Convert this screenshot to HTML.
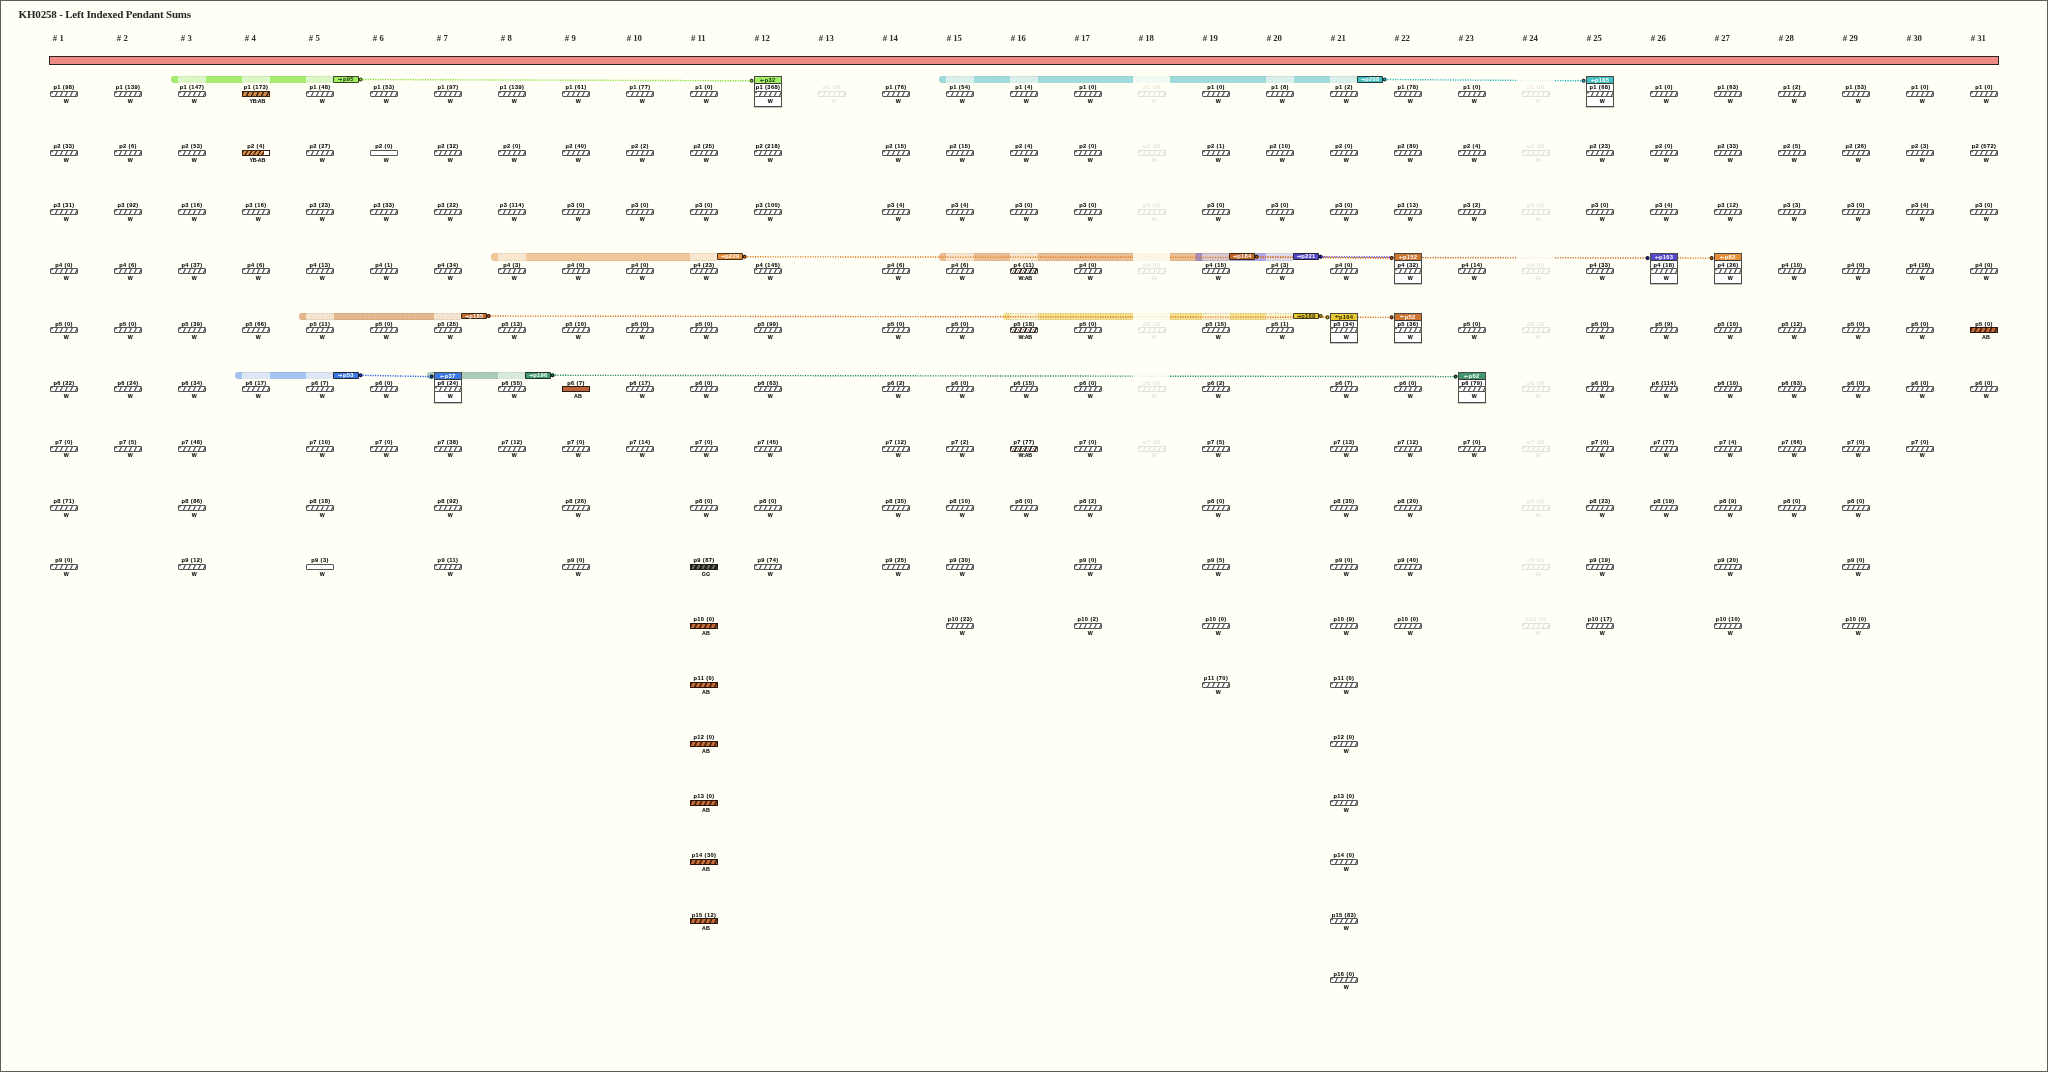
<!DOCTYPE html>
<html lang="en"><head><meta charset="utf-8"><title>KH0258 - Left Indexed Pendant Sums</title>
<style>html,body{margin:0;padding:0}
body{width:2048px;height:1072px;overflow:hidden;background:#fffff6;font-family:"Liberation Sans",sans-serif}
#pg{position:relative;width:2046px;height:1070px;border:1px solid #5e5e58;box-shadow:inset 0 0 0 1px #fffffc;overflow:hidden;will-change:transform}
#pg div,#pg svg{position:absolute}
h1{position:absolute;margin:0;left:17.6px;top:7.3px;font:bold 11px "Liberation Serif",serif;color:#262626;white-space:nowrap;letter-spacing:-.19px}
.h{top:31.8px;width:40px;text-align:center;font:bold 8.7px "Liberation Serif",serif;color:#2c2c2c;white-space:nowrap}
#cord{left:48px;top:55px;width:1948px;height:7px;border:1px solid #2e2222;background:#ee8c83;box-shadow:0 0 0 1px #fffffd}
.c{width:28px;height:20px}
.c i,.c u,.t i,.t u{position:absolute;left:-10px;width:48px;text-align:center;font-style:normal;text-decoration:none;font-weight:bold;color:#000;-webkit-text-stroke:.06px #000;white-space:nowrap;line-height:6px;height:6px}
.c i,.t i{top:-6.7px;font-size:5.7px;letter-spacing:.4px}
.c u,.t u{top:6.9px;font-size:5.3px;left:-7.6px;letter-spacing:.1px}
.c b,.t b{position:absolute;left:0;top:0;width:26px;height:4px;border:1px solid #555;border-radius:1px;background:#fff repeating-linear-gradient(115deg,#5c5c5c 0,#5c5c5c .55px,#fff 1.3px,#fff 3.88px,#5c5c5c 4.53px);background-position:1px 0}
.f{opacity:.17}
.f i,.f u{font-weight:normal;-webkit-text-stroke:0}
b.p{background:#fff}
b.ab{background:#c36c3a repeating-linear-gradient(115deg,#5a2a10 0,#5a2a10 1.1px,#c8703c 2px,#c8703c 3.7px,#5a2a10 4.53px);border-color:#2a1408;border-radius:0}
b.abs{background:#b8633c;border-color:#2e160a;border-radius:0}
b.gg{background:#4c5248 repeating-linear-gradient(115deg,#20241e 0,#20241e 1.5px,#6c7266 2.5px,#6c7266 3.6px,#20241e 4.53px);border-color:#1c1e1a;border-radius:0}
b.yb{background:#c98442 repeating-linear-gradient(115deg,#3a2410 0,#3a2410 .7px,#d08a46 1.6px,#d08a46 3.8px,#3a2410 4.53px);border-color:#3a2410;border-radius:0}
b.yb2{background:linear-gradient(90deg,transparent 0,transparent 20.5px,#fff 21.5px),#d08a48 repeating-linear-gradient(125deg,#4a2810 0,#4a2810 .7px,#e09a58 1.5px,#e09a58 2.5px,#c06a2c 3px,#4a2810 3.5px);border-color:#3a2410;border-radius:0}
b.wab{background:#fff repeating-linear-gradient(115deg,#333 0,#333 .9px,#fff 1.6px,#fff 2.5px,#b4683c 2.9px,#b4683c 3.1px,#fff 3.5px,#fff 3.8px,#333 4.53px);border-color:#3a3a3a}
.bar{height:7.4px;border-radius:3.2px 0 0 3.2px;overflow:hidden}
.bar s{position:absolute;top:0;height:100%;text-decoration:none}
.bar:after{content:"";position:absolute;left:0;right:0;top:0;bottom:0;background:repeating-linear-gradient(90deg,rgba(70,70,40,.22) 0,rgba(70,70,40,.22) 1.2px,transparent 1.2px,transparent 2.5px) 0 0/100% .7px no-repeat,repeating-linear-gradient(90deg,rgba(70,70,40,.22) 0,rgba(70,70,40,.22) 1.2px,transparent 1.2px,transparent 2.5px) 0 100%/100% .7px no-repeat}
.g{display:flex;align-items:center;justify-content:center;height:4.7px;width:23.6px;border:1px solid rgba(25,25,20,.8);border-radius:1px;font-weight:bold;font-size:5.8px;line-height:4.7px;text-align:center;white-space:nowrap;letter-spacing:.25px}
.t{width:26.4px;height:28.9px;border:1px solid #4a4a48;background:#fff;box-shadow:0 .6px 0 #9a9a90}
.t em{position:absolute;left:0;top:0;width:26.4px;height:6px;border-bottom:.8px solid #3a3a30;font-style:normal;font-weight:bold;font-size:5.8px;line-height:6px;text-align:center;letter-spacing:.25px;white-space:nowrap}
.t b{left:-1px;width:26.4px;border-left-color:#4a4a48;border-right-color:#4a4a48}
.fd{background:rgba(255,255,246,.86)}
#pg .g .a{margin-top:.2px}
#pg .a{position:static;display:inline-block;width:4.2px;height:3px;vertical-align:.3px;margin-right:.3px;overflow:visible}</style></head>
<body><div id="pg">
<h1>KH0258 - Left Indexed Pendant Sums</h1>
<div class="h" style="left:37.3px"># 1</div>
<div class="h" style="left:101.3px"># 2</div>
<div class="h" style="left:165.3px"># 3</div>
<div class="h" style="left:229.3px"># 4</div>
<div class="h" style="left:293.3px"># 5</div>
<div class="h" style="left:357.3px"># 6</div>
<div class="h" style="left:421.3px"># 7</div>
<div class="h" style="left:485.3px"># 8</div>
<div class="h" style="left:549.3px"># 9</div>
<div class="h" style="left:613.3px"># 10</div>
<div class="h" style="left:677.3px"># 11</div>
<div class="h" style="left:741.3px"># 12</div>
<div class="h" style="left:805.3px"># 13</div>
<div class="h" style="left:869.3px"># 14</div>
<div class="h" style="left:933.3px"># 15</div>
<div class="h" style="left:997.3px"># 16</div>
<div class="h" style="left:1061.3px"># 17</div>
<div class="h" style="left:1125.3px"># 18</div>
<div class="h" style="left:1189.3px"># 19</div>
<div class="h" style="left:1253.3px"># 20</div>
<div class="h" style="left:1317.3px"># 21</div>
<div class="h" style="left:1381.3px"># 22</div>
<div class="h" style="left:1445.3px"># 23</div>
<div class="h" style="left:1509.3px"># 24</div>
<div class="h" style="left:1573.3px"># 25</div>
<div class="h" style="left:1637.3px"># 26</div>
<div class="h" style="left:1701.3px"># 27</div>
<div class="h" style="left:1765.3px"># 28</div>
<div class="h" style="left:1829.3px"># 29</div>
<div class="h" style="left:1893.3px"># 30</div>
<div class="h" style="left:1957.3px"># 31</div>
<div id="cord"></div>
<div class="bar" style="left:169.8px;top:75px;width:162.7px">
<s style="left:0px;width:7.2px;background:#a9ec72"></s>
<s style="left:7.2px;width:28px;background:#dcf6c6"></s>
<s style="left:35.2px;width:36px;background:#a9ec72"></s>
<s style="left:71.2px;width:28px;background:#dcf6c6"></s>
<s style="left:99.2px;width:36px;background:#a9ec72"></s>
<s style="left:135.2px;width:27.5px;background:#dcf6c6"></s>
</div>
<div class="bar" style="left:937.8px;top:75px;width:418.7px">
<s style="left:0px;width:7.2px;background:#9fdcdb"></s>
<s style="left:7.2px;width:28px;background:#d7f0ea"></s>
<s style="left:35.2px;width:36px;background:#9fdcdb"></s>
<s style="left:71.2px;width:28px;background:#d7f0ea"></s>
<s style="left:99.2px;width:228px;background:#9fdcdb"></s>
<s style="left:327.2px;width:28px;background:#d7f0ea"></s>
<s style="left:355.2px;width:36px;background:#9fdcdb"></s>
<s style="left:391.2px;width:27.5px;background:#d7f0ea"></s>
</div>
<div class="bar" style="left:489.8px;top:252.3px;width:226.7px">
<s style="left:0px;width:7.2px;background:#f0c89a"></s>
<s style="left:7.2px;width:28px;background:#f8e6d1"></s>
<s style="left:35.2px;width:164px;background:#f0c89a"></s>
<s style="left:199.2px;width:27.5px;background:#f8e6d1"></s>
</div>
<div class="bar" style="left:937.8px;top:252.3px;width:290.7px">
<s style="left:0px;width:7.2px;background:rgba(222,150,86,.62)"></s>
<s style="left:7.2px;width:28px;background:rgba(236,190,150,.42)"></s>
<s style="left:35.2px;width:36px;background:rgba(222,150,86,.62)"></s>
<s style="left:71.2px;width:28px;background:rgba(236,190,150,.42)"></s>
<s style="left:99.2px;width:164px;background:rgba(222,150,86,.62)"></s>
<s style="left:263.2px;width:27.5px;background:rgba(236,190,150,.42)"></s>
</div>
<div class="bar" style="left:1193.8px;top:252.3px;width:98.7px">
<s style="left:0px;width:7.2px;background:rgba(110,100,222,.55)"></s>
<s style="left:7.2px;width:28px;background:rgba(150,140,225,.30)"></s>
<s style="left:35.2px;width:36px;background:rgba(110,100,222,.55)"></s>
<s style="left:71.2px;width:27.5px;background:rgba(150,140,225,.30)"></s>
</div>
<div class="bar" style="left:297.8px;top:311.55px;width:162.7px">
<s style="left:0px;width:7.2px;background:#e3b88f"></s>
<s style="left:7.2px;width:28px;background:#f5e3d1"></s>
<s style="left:35.2px;width:100px;background:#e3b88f"></s>
<s style="left:135.2px;width:27.5px;background:#f5e3d1"></s>
</div>
<div class="bar" style="left:1001.8px;top:311.55px;width:290.7px">
<s style="left:0px;width:7.2px;background:rgba(240,210,90,.66)"></s>
<s style="left:7.2px;width:28px;background:rgba(246,224,150,.42)"></s>
<s style="left:35.2px;width:164px;background:rgba(240,210,90,.66)"></s>
<s style="left:199.2px;width:28px;background:rgba(246,224,150,.42)"></s>
<s style="left:227.2px;width:36px;background:rgba(240,210,90,.66)"></s>
<s style="left:263.2px;width:27.5px;background:rgba(246,224,150,.42)"></s>
</div>
<div class="bar" style="left:233.8px;top:370.8px;width:98.7px">
<s style="left:0px;width:7.2px;background:#a6c2ee"></s>
<s style="left:7.2px;width:28px;background:#dce6f4"></s>
<s style="left:35.2px;width:36px;background:#a6c2ee"></s>
<s style="left:71.2px;width:27.5px;background:#dce6f4"></s>
</div>
<div class="bar" style="left:425.8px;top:370.8px;width:98.7px">
<s style="left:0px;width:7.2px;background:#a8ccb5"></s>
<s style="left:7.2px;width:28px;background:#d7e8dc"></s>
<s style="left:35.2px;width:36px;background:#a8ccb5"></s>
<s style="left:71.2px;width:27.5px;background:#d7e8dc"></s>
</div>
<svg width="2046" height="1070" viewBox="1 1 2046 1070" style="left:0;top:0" fill="none" stroke-width="1.4" stroke-dasharray="1.2 1.3">
<path d="M361 79.5L750.5 80.8" stroke="#7fe02e" stroke-dashoffset="1"/>
<path d="M1385 79.5L1582.5 80.8" stroke="#22b4c0" stroke-dashoffset="0"/>
<path d="M1257 256.8L1390.5 258.1" stroke="#c4541a" stroke-dashoffset="2"/>
<path d="M1321 256.8L1423 257.21" stroke="#3a30d8" stroke-dashoffset="2.25"/>
<path d="M1423 257.41L1646.5 257.71" stroke="#3a30d8" stroke-opacity=".3" stroke-dashoffset="0.5"/>
<path d="M745 256.8L1710.5 258.1" stroke="#e07a16" stroke-dashoffset="0"/>
<path d="M1321 316.05L1326.5 317.35" stroke="#e0b414" stroke-dashoffset="1"/>
<path d="M489 316.05L1390.5 317.35" stroke="#dc6c14" stroke-dashoffset="1.5"/>
<path d="M361 375.3L430.5 376.6" stroke="#1c58ea" stroke-dashoffset="1"/>
<path d="M553 375.3L1454.5 376.6" stroke="#1f8a58" stroke-dashoffset="0.5"/>
</svg>
<div class="g" style="left:332.3px;top:75.1px;background:#a4ee66;color:#14300a"><svg class="a" viewBox="0 0 4.2 3"><path d="M0 1.5H3.4M2.3 .4L3.8 1.5L2.3 2.6" fill="none" stroke="currentColor" stroke-width=".75"/></svg>p95</div>
<div class="g" style="left:1356.3px;top:75.1px;background:#43bfc1;color:#ffffff"><svg class="a" viewBox="0 0 4.2 3"><path d="M0 1.5H3.4M2.3 .4L3.8 1.5L2.3 2.6" fill="none" stroke="currentColor" stroke-width=".75"/></svg>p208</div>
<div class="g" style="left:716.3px;top:252.4px;background:#e78f38;color:#ffffff"><svg class="a" viewBox="0 0 4.2 3"><path d="M0 1.5H3.4M2.3 .4L3.8 1.5L2.3 2.6" fill="none" stroke="currentColor" stroke-width=".75"/></svg>p229</div>
<div class="g" style="left:1228.3px;top:252.4px;background:#bf642b;color:#ffffff"><svg class="a" viewBox="0 0 4.2 3"><path d="M0 1.5H3.4M2.3 .4L3.8 1.5L2.3 2.6" fill="none" stroke="currentColor" stroke-width=".75"/></svg>p184</div>
<div class="g" style="left:1292.3px;top:252.4px;background:#5649c9;color:#ffffff"><svg class="a" viewBox="0 0 4.2 3"><path d="M0 1.5H3.4M2.3 .4L3.8 1.5L2.3 2.6" fill="none" stroke="currentColor" stroke-width=".75"/></svg>p221</div>
<div class="g" style="left:460.3px;top:311.65px;background:#c1682c;color:#ffffff"><svg class="a" viewBox="0 0 4.2 3"><path d="M0 1.5H3.4M2.3 .4L3.8 1.5L2.3 2.6" fill="none" stroke="currentColor" stroke-width=".75"/></svg>p185</div>
<div class="g" style="left:1292.3px;top:311.65px;background:#e9c932;color:#2a2408"><svg class="a" viewBox="0 0 4.2 3"><path d="M0 1.5H3.4M2.3 .4L3.8 1.5L2.3 2.6" fill="none" stroke="currentColor" stroke-width=".75"/></svg>p169</div>
<div class="g" style="left:332.3px;top:370.9px;background:#3c79e2;color:#ffffff"><svg class="a" viewBox="0 0 4.2 3"><path d="M0 1.5H3.4M2.3 .4L3.8 1.5L2.3 2.6" fill="none" stroke="currentColor" stroke-width=".75"/></svg>p53</div>
<div class="g" style="left:524.3px;top:370.9px;background:#41976f;color:#ffffff"><svg class="a" viewBox="0 0 4.2 3"><path d="M0 1.5H3.4M2.3 .4L3.8 1.5L2.3 2.6" fill="none" stroke="currentColor" stroke-width=".75"/></svg>p196</div>
<div class="t" style="left:752.7px;top:75px"><em style="background:#a4ee66;color:#14300a"><svg class="a" viewBox="0 0 4.2 3"><path d="M4.2 1.5H.8M1.9 .4L.4 1.5L1.9 2.6" fill="none" stroke="currentColor" stroke-width=".75"/></svg>p32</em></div>
<div class="t" style="left:1584.7px;top:75px"><em style="background:#43bfc1;color:#ffffff"><svg class="a" viewBox="0 0 4.2 3"><path d="M4.2 1.5H.8M1.9 .4L.4 1.5L1.9 2.6" fill="none" stroke="currentColor" stroke-width=".75"/></svg>p165</em></div>
<div class="t" style="left:1712.7px;top:252.3px"><em style="background:#e78f38;color:#ffffff"><svg class="a" viewBox="0 0 4.2 3"><path d="M4.2 1.5H.8M1.9 .4L.4 1.5L1.9 2.6" fill="none" stroke="currentColor" stroke-width=".75"/></svg>p83</em></div>
<div class="t" style="left:1392.7px;top:252.3px"><em style="background:#cc732f;color:#ffffff"><svg class="a" viewBox="0 0 4.2 3"><path d="M4.2 1.5H.8M1.9 .4L.4 1.5L1.9 2.6" fill="none" stroke="currentColor" stroke-width=".75"/></svg>p152</em></div>
<div class="t" style="left:1648.7px;top:252.3px"><em style="background:#5649c9;color:#ffffff"><svg class="a" viewBox="0 0 4.2 3"><path d="M4.2 1.5H.8M1.9 .4L.4 1.5L1.9 2.6" fill="none" stroke="currentColor" stroke-width=".75"/></svg>p163</em></div>
<div class="t" style="left:1392.7px;top:311.55px"><em style="background:#cc732f;color:#ffffff"><svg class="a" viewBox="0 0 4.2 3"><path d="M4.2 1.5H.8M1.9 .4L.4 1.5L1.9 2.6" fill="none" stroke="currentColor" stroke-width=".75"/></svg>p52</em></div>
<div class="t" style="left:1328.7px;top:311.55px"><em style="background:#e9c932;color:#2a2408"><svg class="a" viewBox="0 0 4.2 3"><path d="M4.2 1.5H.8M1.9 .4L.4 1.5L1.9 2.6" fill="none" stroke="currentColor" stroke-width=".75"/></svg>p164</em></div>
<div class="t" style="left:432.7px;top:370.8px"><em style="background:#3c79e2;color:#ffffff"><svg class="a" viewBox="0 0 4.2 3"><path d="M4.2 1.5H.8M1.9 .4L.4 1.5L1.9 2.6" fill="none" stroke="currentColor" stroke-width=".75"/></svg>p37</em></div>
<div class="t" style="left:1456.7px;top:370.8px"><em style="background:#41976f;color:#ffffff"><svg class="a" viewBox="0 0 4.2 3"><path d="M4.2 1.5H.8M1.9 .4L.4 1.5L1.9 2.6" fill="none" stroke="currentColor" stroke-width=".75"/></svg>p62</em></div>
<svg width="2046" height="1070" viewBox="1 1 2046 1070" style="left:0;top:0" stroke-width="1.15">
<circle cx="360.6" cy="79.45" r="1.45" fill="#8ae63a" stroke="#2c4214"/>
<circle cx="751.6" cy="80.8" r="1.45" fill="#8ae63a" stroke="#2c4214"/>
<circle cx="1384.6" cy="79.45" r="1.45" fill="#2ab0ba" stroke="#123a40"/>
<circle cx="1583.6" cy="80.8" r="1.45" fill="#2ab0ba" stroke="#123a40"/>
<circle cx="744.6" cy="256.75" r="1.45" fill="#e06a08" stroke="#3c1c04"/>
<circle cx="1711.6" cy="258.1" r="1.45" fill="#e06a08" stroke="#3c1c04"/>
<circle cx="1256.6" cy="256.75" r="1.45" fill="#cc5a10" stroke="#3a1806"/>
<circle cx="1391.6" cy="258.1" r="1.45" fill="#cc5a10" stroke="#3a1806"/>
<circle cx="1320.6" cy="256.75" r="1.45" fill="#1c1ca4" stroke="#10103c"/>
<circle cx="1647.6" cy="258.1" r="1.45" fill="#1c1ca4" stroke="#10103c"/>
<circle cx="488.6" cy="316" r="1.45" fill="#cc5a10" stroke="#3a1806"/>
<circle cx="1391.6" cy="317.35" r="1.45" fill="#cc5a10" stroke="#3a1806"/>
<circle cx="1320.6" cy="316" r="1.45" fill="#ecc820" stroke="#3c3006"/>
<circle cx="1327.6" cy="317.35" r="1.45" fill="#ecc820" stroke="#3c3006"/>
<circle cx="360.6" cy="375.25" r="1.45" fill="#1444c0" stroke="#0c1848"/>
<circle cx="431.6" cy="376.6" r="1.45" fill="#1444c0" stroke="#0c1848"/>
<circle cx="552.6" cy="375.25" r="1.45" fill="#1b6e46" stroke="#0c2c1c"/>
<circle cx="1455.6" cy="376.6" r="1.45" fill="#1b6e46" stroke="#0c2c1c"/>
</svg>
<div class="c" style="left:49px;top:90px"><i>p1 (98)</i><b></b><u>W</u></div>
<div class="c" style="left:113px;top:90px"><i>p1 (139)</i><b></b><u>W</u></div>
<div class="c" style="left:177px;top:90px"><i>p1 (147)</i><b></b><u>W</u></div>
<div class="c" style="left:241px;top:90px"><i>p1 (173)</i><b class="yb"></b><u style="left:-8.8px;letter-spacing:-.25px">YB:AB</u></div>
<div class="c" style="left:305px;top:90px"><i>p1 (48)</i><b></b><u>W</u></div>
<div class="c" style="left:369px;top:90px"><i>p1 (53)</i><b></b><u>W</u></div>
<div class="c" style="left:433px;top:90px"><i>p1 (97)</i><b></b><u>W</u></div>
<div class="c" style="left:497px;top:90px"><i>p1 (139)</i><b></b><u>W</u></div>
<div class="c" style="left:561px;top:90px"><i>p1 (61)</i><b></b><u>W</u></div>
<div class="c" style="left:625px;top:90px"><i>p1 (77)</i><b></b><u>W</u></div>
<div class="c" style="left:689px;top:90px"><i>p1 (0)</i><b></b><u>W</u></div>
<div class="c" style="left:753px;top:90px"><i>p1 (368)</i><b></b><u>W</u></div>
<div class="c f" style="left:817px;top:90px"><i>p1 (0)</i><b></b><u>W</u></div>
<div class="c" style="left:881px;top:90px"><i>p1 (76)</i><b></b><u>W</u></div>
<div class="c" style="left:945px;top:90px"><i>p1 (54)</i><b></b><u>W</u></div>
<div class="c" style="left:1009px;top:90px"><i>p1 (4)</i><b></b><u>W</u></div>
<div class="c" style="left:1073px;top:90px"><i>p1 (0)</i><b></b><u>W</u></div>
<div class="c f" style="left:1137px;top:90px"><i>p1 (0)</i><b></b><u>W</u></div>
<div class="c" style="left:1201px;top:90px"><i>p1 (0)</i><b></b><u>W</u></div>
<div class="c" style="left:1265px;top:90px"><i>p1 (8)</i><b></b><u>W</u></div>
<div class="c" style="left:1329px;top:90px"><i>p1 (2)</i><b></b><u>W</u></div>
<div class="c" style="left:1393px;top:90px"><i>p1 (78)</i><b></b><u>W</u></div>
<div class="c" style="left:1457px;top:90px"><i>p1 (0)</i><b></b><u>W</u></div>
<div class="c f" style="left:1521px;top:90px"><i>p1 (0)</i><b></b><u>W</u></div>
<div class="c" style="left:1585px;top:90px"><i>p1 (68)</i><b></b><u>W</u></div>
<div class="c" style="left:1649px;top:90px"><i>p1 (0)</i><b></b><u>W</u></div>
<div class="c" style="left:1713px;top:90px"><i>p1 (63)</i><b></b><u>W</u></div>
<div class="c" style="left:1777px;top:90px"><i>p1 (2)</i><b></b><u>W</u></div>
<div class="c" style="left:1841px;top:90px"><i>p1 (53)</i><b></b><u>W</u></div>
<div class="c" style="left:1905px;top:90px"><i>p1 (0)</i><b></b><u>W</u></div>
<div class="c" style="left:1969px;top:90px"><i>p1 (0)</i><b></b><u>W</u></div>
<div class="c" style="left:49px;top:149.09px"><i>p2 (33)</i><b></b><u>W</u></div>
<div class="c" style="left:113px;top:149.09px"><i>p2 (6)</i><b></b><u>W</u></div>
<div class="c" style="left:177px;top:149.09px"><i>p2 (53)</i><b></b><u>W</u></div>
<div class="c" style="left:241px;top:149.09px"><i>p2 (4)</i><b class="yb2"></b><u style="left:-8.8px;letter-spacing:-.25px">YB-AB</u></div>
<div class="c" style="left:305px;top:149.09px"><i>p2 (27)</i><b></b><u>W</u></div>
<div class="c" style="left:369px;top:149.09px"><i>p2 (0)</i><b class="p"></b><u>W</u></div>
<div class="c" style="left:433px;top:149.09px"><i>p2 (32)</i><b></b><u>W</u></div>
<div class="c" style="left:497px;top:149.09px"><i>p2 (0)</i><b></b><u>W</u></div>
<div class="c" style="left:561px;top:149.09px"><i>p2 (40)</i><b></b><u>W</u></div>
<div class="c" style="left:625px;top:149.09px"><i>p2 (2)</i><b></b><u>W</u></div>
<div class="c" style="left:689px;top:149.09px"><i>p2 (25)</i><b></b><u>W</u></div>
<div class="c" style="left:753px;top:149.09px"><i>p2 (218)</i><b></b><u>W</u></div>
<div class="c" style="left:881px;top:149.09px"><i>p2 (15)</i><b></b><u>W</u></div>
<div class="c" style="left:945px;top:149.09px"><i>p2 (15)</i><b></b><u>W</u></div>
<div class="c" style="left:1009px;top:149.09px"><i>p2 (4)</i><b></b><u>W</u></div>
<div class="c" style="left:1073px;top:149.09px"><i>p2 (0)</i><b></b><u>W</u></div>
<div class="c f" style="left:1137px;top:149.09px"><i>p2 (0)</i><b></b><u>W</u></div>
<div class="c" style="left:1201px;top:149.09px"><i>p2 (1)</i><b></b><u>W</u></div>
<div class="c" style="left:1265px;top:149.09px"><i>p2 (10)</i><b></b><u>W</u></div>
<div class="c" style="left:1329px;top:149.09px"><i>p2 (0)</i><b></b><u>W</u></div>
<div class="c" style="left:1393px;top:149.09px"><i>p2 (80)</i><b></b><u>W</u></div>
<div class="c" style="left:1457px;top:149.09px"><i>p2 (4)</i><b></b><u>W</u></div>
<div class="c f" style="left:1521px;top:149.09px"><i>p2 (0)</i><b></b><u>W</u></div>
<div class="c" style="left:1585px;top:149.09px"><i>p2 (23)</i><b></b><u>W</u></div>
<div class="c" style="left:1649px;top:149.09px"><i>p2 (0)</i><b></b><u>W</u></div>
<div class="c" style="left:1713px;top:149.09px"><i>p2 (33)</i><b></b><u>W</u></div>
<div class="c" style="left:1777px;top:149.09px"><i>p2 (5)</i><b></b><u>W</u></div>
<div class="c" style="left:1841px;top:149.09px"><i>p2 (26)</i><b></b><u>W</u></div>
<div class="c" style="left:1905px;top:149.09px"><i>p2 (3)</i><b></b><u>W</u></div>
<div class="c" style="left:1969px;top:149.09px"><i>p2 (572)</i><b></b><u>W</u></div>
<div class="c" style="left:49px;top:208.18px"><i>p3 (31)</i><b></b><u>W</u></div>
<div class="c" style="left:113px;top:208.18px"><i>p3 (92)</i><b></b><u>W</u></div>
<div class="c" style="left:177px;top:208.18px"><i>p3 (16)</i><b></b><u>W</u></div>
<div class="c" style="left:241px;top:208.18px"><i>p3 (16)</i><b></b><u>W</u></div>
<div class="c" style="left:305px;top:208.18px"><i>p3 (23)</i><b></b><u>W</u></div>
<div class="c" style="left:369px;top:208.18px"><i>p3 (33)</i><b></b><u>W</u></div>
<div class="c" style="left:433px;top:208.18px"><i>p3 (22)</i><b></b><u>W</u></div>
<div class="c" style="left:497px;top:208.18px"><i>p3 (114)</i><b></b><u>W</u></div>
<div class="c" style="left:561px;top:208.18px"><i>p3 (0)</i><b></b><u>W</u></div>
<div class="c" style="left:625px;top:208.18px"><i>p3 (0)</i><b></b><u>W</u></div>
<div class="c" style="left:689px;top:208.18px"><i>p3 (0)</i><b></b><u>W</u></div>
<div class="c" style="left:753px;top:208.18px"><i>p3 (100)</i><b></b><u>W</u></div>
<div class="c" style="left:881px;top:208.18px"><i>p3 (4)</i><b></b><u>W</u></div>
<div class="c" style="left:945px;top:208.18px"><i>p3 (4)</i><b></b><u>W</u></div>
<div class="c" style="left:1009px;top:208.18px"><i>p3 (0)</i><b></b><u>W</u></div>
<div class="c" style="left:1073px;top:208.18px"><i>p3 (0)</i><b></b><u>W</u></div>
<div class="c f" style="left:1137px;top:208.18px"><i>p3 (0)</i><b></b><u>W</u></div>
<div class="c" style="left:1201px;top:208.18px"><i>p3 (0)</i><b></b><u>W</u></div>
<div class="c" style="left:1265px;top:208.18px"><i>p3 (0)</i><b></b><u>W</u></div>
<div class="c" style="left:1329px;top:208.18px"><i>p3 (0)</i><b></b><u>W</u></div>
<div class="c" style="left:1393px;top:208.18px"><i>p3 (13)</i><b></b><u>W</u></div>
<div class="c" style="left:1457px;top:208.18px"><i>p3 (2)</i><b></b><u>W</u></div>
<div class="c f" style="left:1521px;top:208.18px"><i>p3 (0)</i><b></b><u>W</u></div>
<div class="c" style="left:1585px;top:208.18px"><i>p3 (0)</i><b></b><u>W</u></div>
<div class="c" style="left:1649px;top:208.18px"><i>p3 (4)</i><b></b><u>W</u></div>
<div class="c" style="left:1713px;top:208.18px"><i>p3 (12)</i><b></b><u>W</u></div>
<div class="c" style="left:1777px;top:208.18px"><i>p3 (3)</i><b></b><u>W</u></div>
<div class="c" style="left:1841px;top:208.18px"><i>p3 (0)</i><b></b><u>W</u></div>
<div class="c" style="left:1905px;top:208.18px"><i>p3 (4)</i><b></b><u>W</u></div>
<div class="c" style="left:1969px;top:208.18px"><i>p3 (0)</i><b></b><u>W</u></div>
<div class="c" style="left:49px;top:267.27px"><i>p4 (0)</i><b></b><u>W</u></div>
<div class="c" style="left:113px;top:267.27px"><i>p4 (6)</i><b></b><u>W</u></div>
<div class="c" style="left:177px;top:267.27px"><i>p4 (37)</i><b></b><u>W</u></div>
<div class="c" style="left:241px;top:267.27px"><i>p4 (6)</i><b></b><u>W</u></div>
<div class="c" style="left:305px;top:267.27px"><i>p4 (13)</i><b></b><u>W</u></div>
<div class="c" style="left:369px;top:267.27px"><i>p4 (1)</i><b></b><u>W</u></div>
<div class="c" style="left:433px;top:267.27px"><i>p4 (34)</i><b></b><u>W</u></div>
<div class="c" style="left:497px;top:267.27px"><i>p4 (3)</i><b></b><u>W</u></div>
<div class="c" style="left:561px;top:267.27px"><i>p4 (0)</i><b></b><u>W</u></div>
<div class="c" style="left:625px;top:267.27px"><i>p4 (0)</i><b></b><u>W</u></div>
<div class="c" style="left:689px;top:267.27px"><i>p4 (23)</i><b></b><u>W</u></div>
<div class="c" style="left:753px;top:267.27px"><i>p4 (145)</i><b></b><u>W</u></div>
<div class="c" style="left:881px;top:267.27px"><i>p4 (6)</i><b></b><u>W</u></div>
<div class="c" style="left:945px;top:267.27px"><i>p4 (6)</i><b></b><u>W</u></div>
<div class="c" style="left:1009px;top:267.27px"><i>p4 (11)</i><b class="wab"></b><u style="left:-8.8px;letter-spacing:-.25px">W:AB</u></div>
<div class="c" style="left:1073px;top:267.27px"><i>p4 (0)</i><b></b><u>W</u></div>
<div class="c f" style="left:1137px;top:267.27px"><i>p4 (0)</i><b></b><u>W</u></div>
<div class="c" style="left:1201px;top:267.27px"><i>p4 (15)</i><b></b><u>W</u></div>
<div class="c" style="left:1265px;top:267.27px"><i>p4 (3)</i><b></b><u>W</u></div>
<div class="c" style="left:1329px;top:267.27px"><i>p4 (0)</i><b></b><u>W</u></div>
<div class="c" style="left:1393px;top:267.27px"><i>p4 (32)</i><b></b><u>W</u></div>
<div class="c" style="left:1457px;top:267.27px"><i>p4 (14)</i><b></b><u>W</u></div>
<div class="c f" style="left:1521px;top:267.27px"><i>p4 (0)</i><b></b><u>W</u></div>
<div class="c" style="left:1585px;top:267.27px"><i>p4 (33)</i><b></b><u>W</u></div>
<div class="c" style="left:1649px;top:267.27px"><i>p4 (18)</i><b></b><u>W</u></div>
<div class="c" style="left:1713px;top:267.27px"><i>p4 (26)</i><b></b><u>W</u></div>
<div class="c" style="left:1777px;top:267.27px"><i>p4 (10)</i><b></b><u>W</u></div>
<div class="c" style="left:1841px;top:267.27px"><i>p4 (0)</i><b></b><u>W</u></div>
<div class="c" style="left:1905px;top:267.27px"><i>p4 (16)</i><b></b><u>W</u></div>
<div class="c" style="left:1969px;top:267.27px"><i>p4 (0)</i><b></b><u>W</u></div>
<div class="c" style="left:49px;top:326.36px"><i>p5 (0)</i><b></b><u>W</u></div>
<div class="c" style="left:113px;top:326.36px"><i>p5 (0)</i><b></b><u>W</u></div>
<div class="c" style="left:177px;top:326.36px"><i>p5 (39)</i><b></b><u>W</u></div>
<div class="c" style="left:241px;top:326.36px"><i>p5 (66)</i><b></b><u>W</u></div>
<div class="c" style="left:305px;top:326.36px"><i>p5 (11)</i><b></b><u>W</u></div>
<div class="c" style="left:369px;top:326.36px"><i>p5 (0)</i><b></b><u>W</u></div>
<div class="c" style="left:433px;top:326.36px"><i>p5 (25)</i><b></b><u>W</u></div>
<div class="c" style="left:497px;top:326.36px"><i>p5 (13)</i><b></b><u>W</u></div>
<div class="c" style="left:561px;top:326.36px"><i>p5 (10)</i><b></b><u>W</u></div>
<div class="c" style="left:625px;top:326.36px"><i>p5 (0)</i><b></b><u>W</u></div>
<div class="c" style="left:689px;top:326.36px"><i>p5 (0)</i><b></b><u>W</u></div>
<div class="c" style="left:753px;top:326.36px"><i>p5 (99)</i><b></b><u>W</u></div>
<div class="c" style="left:881px;top:326.36px"><i>p5 (0)</i><b></b><u>W</u></div>
<div class="c" style="left:945px;top:326.36px"><i>p5 (0)</i><b></b><u>W</u></div>
<div class="c" style="left:1009px;top:326.36px"><i>p5 (18)</i><b class="wab"></b><u style="left:-8.8px;letter-spacing:-.25px">W:AB</u></div>
<div class="c" style="left:1073px;top:326.36px"><i>p5 (0)</i><b></b><u>W</u></div>
<div class="c f" style="left:1137px;top:326.36px"><i>p5 (0)</i><b></b><u>W</u></div>
<div class="c" style="left:1201px;top:326.36px"><i>p5 (15)</i><b></b><u>W</u></div>
<div class="c" style="left:1265px;top:326.36px"><i>p5 (1)</i><b></b><u>W</u></div>
<div class="c" style="left:1329px;top:326.36px"><i>p5 (34)</i><b></b><u>W</u></div>
<div class="c" style="left:1393px;top:326.36px"><i>p5 (36)</i><b></b><u>W</u></div>
<div class="c" style="left:1457px;top:326.36px"><i>p5 (0)</i><b></b><u>W</u></div>
<div class="c f" style="left:1521px;top:326.36px"><i>p5 (0)</i><b></b><u>W</u></div>
<div class="c" style="left:1585px;top:326.36px"><i>p5 (0)</i><b></b><u>W</u></div>
<div class="c" style="left:1649px;top:326.36px"><i>p5 (9)</i><b></b><u>W</u></div>
<div class="c" style="left:1713px;top:326.36px"><i>p5 (10)</i><b></b><u>W</u></div>
<div class="c" style="left:1777px;top:326.36px"><i>p5 (12)</i><b></b><u>W</u></div>
<div class="c" style="left:1841px;top:326.36px"><i>p5 (0)</i><b></b><u>W</u></div>
<div class="c" style="left:1905px;top:326.36px"><i>p5 (0)</i><b></b><u>W</u></div>
<div class="c" style="left:1969px;top:326.36px"><i>p5 (0)</i><b class="ab"></b><u style="left:-8px">AB</u></div>
<div class="c" style="left:49px;top:385.45px"><i>p6 (22)</i><b></b><u>W</u></div>
<div class="c" style="left:113px;top:385.45px"><i>p6 (24)</i><b></b><u>W</u></div>
<div class="c" style="left:177px;top:385.45px"><i>p6 (34)</i><b></b><u>W</u></div>
<div class="c" style="left:241px;top:385.45px"><i>p6 (17)</i><b></b><u>W</u></div>
<div class="c" style="left:305px;top:385.45px"><i>p6 (7)</i><b></b><u>W</u></div>
<div class="c" style="left:369px;top:385.45px"><i>p6 (0)</i><b></b><u>W</u></div>
<div class="c" style="left:433px;top:385.45px"><i>p6 (24)</i><b></b><u>W</u></div>
<div class="c" style="left:497px;top:385.45px"><i>p6 (55)</i><b></b><u>W</u></div>
<div class="c" style="left:561px;top:385.45px"><i>p6 (7)</i><b class="abs"></b><u style="left:-8px">AB</u></div>
<div class="c" style="left:625px;top:385.45px"><i>p6 (17)</i><b></b><u>W</u></div>
<div class="c" style="left:689px;top:385.45px"><i>p6 (0)</i><b></b><u>W</u></div>
<div class="c" style="left:753px;top:385.45px"><i>p6 (63)</i><b></b><u>W</u></div>
<div class="c" style="left:881px;top:385.45px"><i>p6 (2)</i><b></b><u>W</u></div>
<div class="c" style="left:945px;top:385.45px"><i>p6 (0)</i><b></b><u>W</u></div>
<div class="c" style="left:1009px;top:385.45px"><i>p6 (15)</i><b></b><u>W</u></div>
<div class="c" style="left:1073px;top:385.45px"><i>p6 (0)</i><b></b><u>W</u></div>
<div class="c f" style="left:1137px;top:385.45px"><i>p6 (0)</i><b></b><u>W</u></div>
<div class="c" style="left:1201px;top:385.45px"><i>p6 (2)</i><b></b><u>W</u></div>
<div class="c" style="left:1329px;top:385.45px"><i>p6 (7)</i><b></b><u>W</u></div>
<div class="c" style="left:1393px;top:385.45px"><i>p6 (0)</i><b></b><u>W</u></div>
<div class="c" style="left:1457px;top:385.45px"><i>p6 (79)</i><b></b><u>W</u></div>
<div class="c f" style="left:1521px;top:385.45px"><i>p6 (0)</i><b></b><u>W</u></div>
<div class="c" style="left:1585px;top:385.45px"><i>p6 (0)</i><b></b><u>W</u></div>
<div class="c" style="left:1649px;top:385.45px"><i>p6 (114)</i><b></b><u>W</u></div>
<div class="c" style="left:1713px;top:385.45px"><i>p6 (10)</i><b></b><u>W</u></div>
<div class="c" style="left:1777px;top:385.45px"><i>p6 (63)</i><b></b><u>W</u></div>
<div class="c" style="left:1841px;top:385.45px"><i>p6 (0)</i><b></b><u>W</u></div>
<div class="c" style="left:1905px;top:385.45px"><i>p6 (0)</i><b></b><u>W</u></div>
<div class="c" style="left:1969px;top:385.45px"><i>p6 (0)</i><b></b><u>W</u></div>
<div class="c" style="left:49px;top:444.54px"><i>p7 (0)</i><b></b><u>W</u></div>
<div class="c" style="left:113px;top:444.54px"><i>p7 (5)</i><b></b><u>W</u></div>
<div class="c" style="left:177px;top:444.54px"><i>p7 (48)</i><b></b><u>W</u></div>
<div class="c" style="left:305px;top:444.54px"><i>p7 (10)</i><b></b><u>W</u></div>
<div class="c" style="left:369px;top:444.54px"><i>p7 (0)</i><b></b><u>W</u></div>
<div class="c" style="left:433px;top:444.54px"><i>p7 (38)</i><b></b><u>W</u></div>
<div class="c" style="left:497px;top:444.54px"><i>p7 (12)</i><b></b><u>W</u></div>
<div class="c" style="left:561px;top:444.54px"><i>p7 (0)</i><b></b><u>W</u></div>
<div class="c" style="left:625px;top:444.54px"><i>p7 (14)</i><b></b><u>W</u></div>
<div class="c" style="left:689px;top:444.54px"><i>p7 (0)</i><b></b><u>W</u></div>
<div class="c" style="left:753px;top:444.54px"><i>p7 (45)</i><b></b><u>W</u></div>
<div class="c" style="left:881px;top:444.54px"><i>p7 (12)</i><b></b><u>W</u></div>
<div class="c" style="left:945px;top:444.54px"><i>p7 (2)</i><b></b><u>W</u></div>
<div class="c" style="left:1009px;top:444.54px"><i>p7 (77)</i><b class="wab"></b><u style="left:-8.8px;letter-spacing:-.25px">W:AB</u></div>
<div class="c" style="left:1073px;top:444.54px"><i>p7 (0)</i><b></b><u>W</u></div>
<div class="c f" style="left:1137px;top:444.54px"><i>p7 (0)</i><b></b><u>W</u></div>
<div class="c" style="left:1201px;top:444.54px"><i>p7 (5)</i><b></b><u>W</u></div>
<div class="c" style="left:1329px;top:444.54px"><i>p7 (13)</i><b></b><u>W</u></div>
<div class="c" style="left:1393px;top:444.54px"><i>p7 (12)</i><b></b><u>W</u></div>
<div class="c" style="left:1457px;top:444.54px"><i>p7 (0)</i><b></b><u>W</u></div>
<div class="c f" style="left:1521px;top:444.54px"><i>p7 (0)</i><b></b><u>W</u></div>
<div class="c" style="left:1585px;top:444.54px"><i>p7 (0)</i><b></b><u>W</u></div>
<div class="c" style="left:1649px;top:444.54px"><i>p7 (77)</i><b></b><u>W</u></div>
<div class="c" style="left:1713px;top:444.54px"><i>p7 (4)</i><b></b><u>W</u></div>
<div class="c" style="left:1777px;top:444.54px"><i>p7 (66)</i><b></b><u>W</u></div>
<div class="c" style="left:1841px;top:444.54px"><i>p7 (0)</i><b></b><u>W</u></div>
<div class="c" style="left:1905px;top:444.54px"><i>p7 (0)</i><b></b><u>W</u></div>
<div class="c" style="left:49px;top:503.63px"><i>p8 (71)</i><b></b><u>W</u></div>
<div class="c" style="left:177px;top:503.63px"><i>p8 (86)</i><b></b><u>W</u></div>
<div class="c" style="left:305px;top:503.63px"><i>p8 (18)</i><b></b><u>W</u></div>
<div class="c" style="left:433px;top:503.63px"><i>p8 (92)</i><b></b><u>W</u></div>
<div class="c" style="left:561px;top:503.63px"><i>p8 (26)</i><b></b><u>W</u></div>
<div class="c" style="left:689px;top:503.63px"><i>p8 (0)</i><b></b><u>W</u></div>
<div class="c" style="left:753px;top:503.63px"><i>p8 (0)</i><b></b><u>W</u></div>
<div class="c" style="left:881px;top:503.63px"><i>p8 (35)</i><b></b><u>W</u></div>
<div class="c" style="left:945px;top:503.63px"><i>p8 (10)</i><b></b><u>W</u></div>
<div class="c" style="left:1009px;top:503.63px"><i>p8 (0)</i><b></b><u>W</u></div>
<div class="c" style="left:1073px;top:503.63px"><i>p8 (2)</i><b></b><u>W</u></div>
<div class="c" style="left:1201px;top:503.63px"><i>p8 (0)</i><b></b><u>W</u></div>
<div class="c" style="left:1329px;top:503.63px"><i>p8 (35)</i><b></b><u>W</u></div>
<div class="c" style="left:1393px;top:503.63px"><i>p8 (20)</i><b></b><u>W</u></div>
<div class="c f" style="left:1521px;top:503.63px"><i>p8 (0)</i><b></b><u>W</u></div>
<div class="c" style="left:1585px;top:503.63px"><i>p8 (23)</i><b></b><u>W</u></div>
<div class="c" style="left:1649px;top:503.63px"><i>p8 (19)</i><b></b><u>W</u></div>
<div class="c" style="left:1713px;top:503.63px"><i>p8 (9)</i><b></b><u>W</u></div>
<div class="c" style="left:1777px;top:503.63px"><i>p8 (0)</i><b></b><u>W</u></div>
<div class="c" style="left:1841px;top:503.63px"><i>p8 (0)</i><b></b><u>W</u></div>
<div class="c" style="left:49px;top:562.72px"><i>p9 (0)</i><b></b><u>W</u></div>
<div class="c" style="left:177px;top:562.72px"><i>p9 (12)</i><b></b><u>W</u></div>
<div class="c" style="left:305px;top:562.72px"><i>p9 (3)</i><b class="p"></b><u>W</u></div>
<div class="c" style="left:433px;top:562.72px"><i>p9 (11)</i><b></b><u>W</u></div>
<div class="c" style="left:561px;top:562.72px"><i>p9 (0)</i><b></b><u>W</u></div>
<div class="c" style="left:689px;top:562.72px"><i>p9 (87)</i><b class="gg"></b><u style="left:-8px">GG</u></div>
<div class="c" style="left:753px;top:562.72px"><i>p9 (74)</i><b></b><u>W</u></div>
<div class="c" style="left:881px;top:562.72px"><i>p9 (25)</i><b></b><u>W</u></div>
<div class="c" style="left:945px;top:562.72px"><i>p9 (30)</i><b></b><u>W</u></div>
<div class="c" style="left:1073px;top:562.72px"><i>p9 (0)</i><b></b><u>W</u></div>
<div class="c" style="left:1201px;top:562.72px"><i>p9 (5)</i><b></b><u>W</u></div>
<div class="c" style="left:1329px;top:562.72px"><i>p9 (0)</i><b></b><u>W</u></div>
<div class="c" style="left:1393px;top:562.72px"><i>p9 (40)</i><b></b><u>W</u></div>
<div class="c f" style="left:1521px;top:562.72px"><i>p9 (0)</i><b></b><u>W</u></div>
<div class="c" style="left:1585px;top:562.72px"><i>p9 (19)</i><b></b><u>W</u></div>
<div class="c" style="left:1713px;top:562.72px"><i>p9 (20)</i><b></b><u>W</u></div>
<div class="c" style="left:1841px;top:562.72px"><i>p9 (0)</i><b></b><u>W</u></div>
<div class="c" style="left:689px;top:621.81px"><i>p10 (0)</i><b class="ab"></b><u style="left:-8px">AB</u></div>
<div class="c" style="left:945px;top:621.81px"><i>p10 (23)</i><b></b><u>W</u></div>
<div class="c" style="left:1073px;top:621.81px"><i>p10 (2)</i><b></b><u>W</u></div>
<div class="c" style="left:1201px;top:621.81px"><i>p10 (0)</i><b></b><u>W</u></div>
<div class="c" style="left:1329px;top:621.81px"><i>p10 (9)</i><b></b><u>W</u></div>
<div class="c" style="left:1393px;top:621.81px"><i>p10 (0)</i><b></b><u>W</u></div>
<div class="c f" style="left:1521px;top:621.81px"><i>p10 (0)</i><b></b><u>W</u></div>
<div class="c" style="left:1585px;top:621.81px"><i>p10 (17)</i><b></b><u>W</u></div>
<div class="c" style="left:1713px;top:621.81px"><i>p10 (10)</i><b></b><u>W</u></div>
<div class="c" style="left:1841px;top:621.81px"><i>p10 (0)</i><b></b><u>W</u></div>
<div class="c" style="left:689px;top:680.9px"><i>p11 (0)</i><b class="ab"></b><u style="left:-8px">AB</u></div>
<div class="c" style="left:1201px;top:680.9px"><i>p11 (70)</i><b></b><u>W</u></div>
<div class="c" style="left:1329px;top:680.9px"><i>p11 (0)</i><b></b><u>W</u></div>
<div class="c" style="left:689px;top:739.99px"><i>p12 (0)</i><b class="ab"></b><u style="left:-8px">AB</u></div>
<div class="c" style="left:1329px;top:739.99px"><i>p12 (0)</i><b></b><u>W</u></div>
<div class="c" style="left:689px;top:799.08px"><i>p13 (0)</i><b class="ab"></b><u style="left:-8px">AB</u></div>
<div class="c" style="left:1329px;top:799.08px"><i>p13 (0)</i><b></b><u>W</u></div>
<div class="c" style="left:689px;top:858.17px"><i>p14 (30)</i><b class="ab"></b><u style="left:-8px">AB</u></div>
<div class="c" style="left:1329px;top:858.17px"><i>p14 (0)</i><b></b><u>W</u></div>
<div class="c" style="left:689px;top:917.26px"><i>p15 (12)</i><b class="ab"></b><u style="left:-8px">AB</u></div>
<div class="c" style="left:1329px;top:917.26px"><i>p15 (83)</i><b></b><u>W</u></div>
<div class="c" style="left:1329px;top:976.35px"><i>p16 (0)</i><b></b><u>W</u></div>
<div class="fd" style="left:812.2px;top:74px;width:37px;height:10px"></div>
<div class="fd" style="left:1132.2px;top:74px;width:37px;height:10px"></div>
<div class="fd" style="left:1132.2px;top:251.27px;width:37px;height:10px"></div>
<div class="fd" style="left:1132.2px;top:310.36px;width:37px;height:10px"></div>
<div class="fd" style="left:1132.2px;top:369.45px;width:37px;height:10px"></div>
<div class="fd" style="left:1516.2px;top:74px;width:37px;height:10px"></div>
<div class="fd" style="left:1516.2px;top:251.27px;width:37px;height:10px"></div>
<div class="fd" style="left:1516.2px;top:310.36px;width:37px;height:10px"></div>
<div class="fd" style="left:1516.2px;top:369.45px;width:37px;height:10px"></div>
</div></body></html>
